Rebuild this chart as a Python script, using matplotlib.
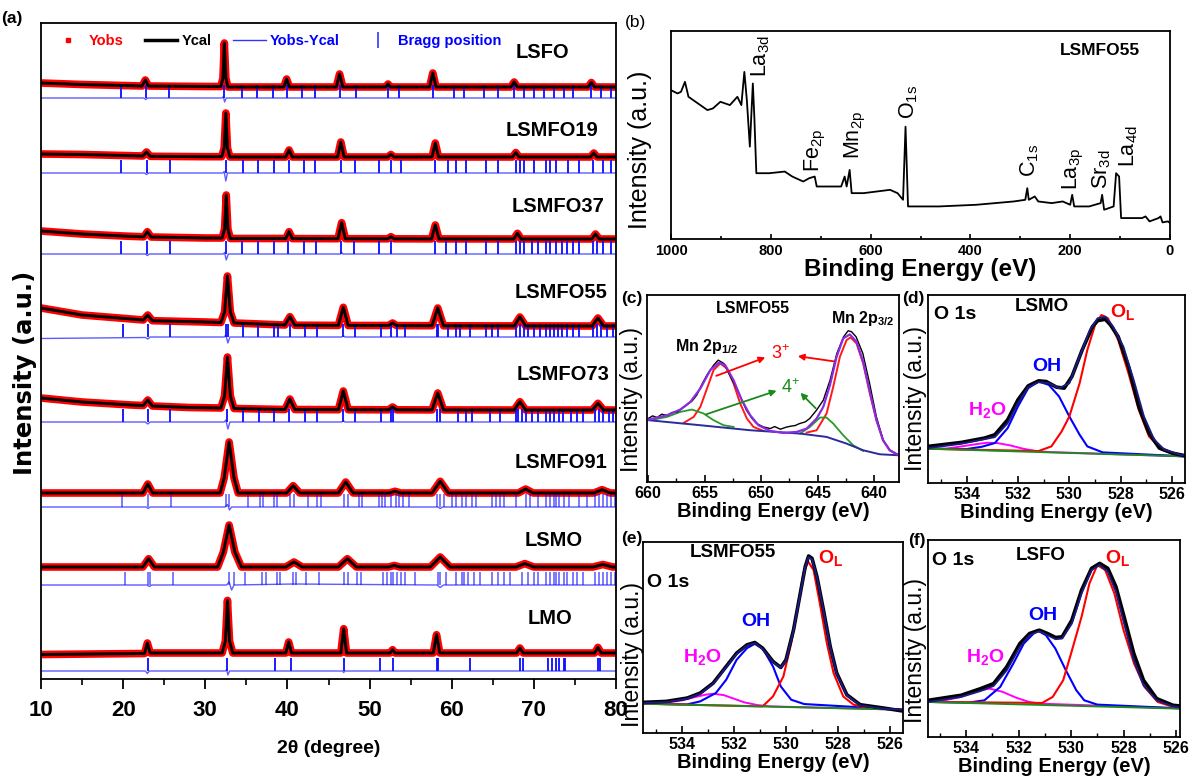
import matplotlib
matplotlib.use("Agg")
import matplotlib.pyplot as plt
from matplotlib.lines import Line2D
from matplotlib.ticker import MultipleLocator

ARIAL = ['Liberation Sans', 'DejaVu Sans']
WIDE = ['DejaVu Sans']
plt.rcParams['font.family'] = ARIAL
plt.rcParams['mathtext.default'] = 'regular'

# ---------------- (a) XRD Rietveld data (2theta, intensity a.u.) ----------------
samples = ['LSFO', 'LSMFO19', 'LSMFO37', 'LSMFO55', 'LSMFO73', 'LSMFO91', 'LSMO', 'LMO']
calc_offset = [592, 522, 440, 353, 269, 186, 112, 26]
diff_offset = [581, 506, 425, 342, 257, 172, 94, 8]

lsfo_tth = [10, 15, 20, 22.3, 22.7, 23.1, 30, 31.9, 32.15, 32.32, 32.5, 32.75, 39.55, 39.9, 40.25, 45.95, 46.35, 46.75,
            51.95, 52.25, 52.55, 57.3, 57.7, 58.1, 67.2, 67.6, 68.0, 76.6, 77.0, 77.4, 80]
lsfo_int = [4, 2.5, 1.5, 1, 7, 1, 0.5, 0.5, 9, 44, 9, 0, 0, 8, 0, 0, 13, 0, 0, 3, 0, 0, 14, 0, 0, 5, 0, 0, 4.5, 0, 0]
lsmfo19_tth = [10, 15, 20, 22.4, 22.85, 23.3, 30, 32.0, 32.3, 32.5, 32.7, 33.0, 39.8, 40.2, 40.6, 46.1, 46.5, 46.9,
               52.2, 52.6, 53.0, 57.6, 58.0, 58.4, 67.4, 67.8, 68.2, 76.9, 77.3, 77.7, 80]
lsmfo19_int = [3, 2.5, 1.5, 1, 5, 0.7, 0.3, 0.3, 9, 44, 9, 0, 0, 7, 0, 0, 15, 0, 0, 2.5, 0, 0, 14, 0, 0, 4.5, 0, 0, 4, 0, 0]
lsmfo37_tth = [10, 15, 20, 22.5, 22.95, 23.4, 30, 32.05, 32.35, 32.55, 32.75, 33.05, 39.8, 40.2, 40.6, 46.15, 46.6, 47.05,
               52.2, 52.6, 53.0, 57.55, 58.0, 58.45, 67.55, 68.0, 68.45, 77.05, 77.5, 77.95, 80]
lsmfo37_int = [8, 5, 3, 2.2, 7.3, 2, 1, 1, 10, 44, 10, 0.5, 0.5, 7.3, 0.4, 0.3, 16.3, 0.3, 0.2, 2.3, 0.2, 0.1, 14, 0.1,
               0, 5.7, 0, 0, 5, 0, 0]
lsmfo55_tth = [10, 15, 21, 22.45, 23.0, 23.55, 30, 31.9, 32.35, 32.7, 33.05, 33.5, 39.7, 40.3, 40.9, 46.2, 46.8, 47.4,
               52.3, 52.8, 53.3, 57.6, 58.3, 59.0, 67.6, 68.3, 69.0, 77.1, 77.8, 78.5, 80]
lsmfo55_int = [18, 11, 7, 6, 11, 5.3, 4, 3.5, 14, 50, 14, 3, 1, 9.3, 0.8, 0.6, 18.7, 0.5, 0.5, 3, 0.4, 0.3, 18, 0.2,
               0.1, 9, 0.1, 0, 8, 0, 0]
lsmfo73_tth = [10, 15, 21, 22.45, 23.0, 23.55, 28, 31.9, 32.35, 32.7, 33.05, 33.5, 39.7, 40.3, 40.9, 46.2, 46.8, 47.4,
               52.3, 52.8, 53.3, 57.6, 58.3, 59.0, 67.6, 68.3, 69.0, 77.1, 77.8, 78.5, 80]
lsmfo73_int = [12, 8, 5, 4.5, 10, 4, 2.5, 2, 14, 53, 14, 1.5, 0.5, 11, 0.5, 0.3, 19, 0.3, 0.2, 3, 0.2, 0.1, 17, 0.1,
               0, 8.3, 0, 0, 6.7, 0, 0]
lsmfo91_tth = [10, 22.4, 23.0, 23.6, 31.8, 32.3, 32.9, 33.5, 34.0, 39.9, 40.7, 41.5, 46.2, 47.1, 48.0, 52.4, 53.1, 53.8,
               57.6, 58.6, 59.6, 68.1, 69.0, 69.9, 77.3, 78.3, 79.3, 80]
lsmfo91_int = [0, 0, 9, 0, 0, 15, 51, 15, 0, 0, 7.3, 0, 0, 11, 0, 0, 1.7, 0, 0, 11.7, 0, 0, 4, 0, 0, 3.3, 0, 0]
lsmo_tth = [10, 22.4, 23.1, 23.8, 31.5, 32.2, 32.9, 33.6, 34.4, 39.8, 40.8, 41.8, 46.2, 47.3, 48.4, 52.3, 53.0, 53.7,
            57.4, 58.6, 59.8, 67.8, 68.9, 70.0, 77.2, 78.4, 79.6, 80]
lsmo_int = [0, 0, 8.3, 0, 0, 15, 42, 15, 0, 0, 5, 0, 0, 8.3, 0, 0, 1.5, 0, 0, 10, 0, 0, 3.4, 0, 0, 2.5, 0, 0]
lmo_tth = [10, 22.6, 22.95, 23.3, 32.05, 32.45, 32.7, 32.95, 33.35, 39.8, 40.15, 40.5, 46.5, 46.85, 47.2, 52.5, 52.8,
           53.1, 57.75, 58.15, 58.55, 67.9, 68.3, 68.7, 77.4, 77.8, 78.2, 80]
lmo_int = [-1.5, -0.5, 10, 0, 0, 12, 52.6, 12, 0, 0, 11, 0, 0, 24.3, 0, 0, 3.3, 0, 0, 18.3, 0, 0, 5, 0, 0, 5.6, 0, 0]

# difference curves Yobs - Ycal
lsfo_dtth = [10, 22.5, 22.75, 23.0, 32.05, 32.2, 32.35, 32.55, 46.2, 46.35, 46.5, 80]
lsfo_diff = [0, 0, -1.5, 0, 0, 1.5, -4, 0, 0, 1, 0, 0]
lsmfo19_dtth = [10, 22.6, 22.85, 23.1, 32.15, 32.3, 32.5, 32.7, 46.35, 46.5, 46.65, 80]
lsmfo19_diff = [0, 0, -1.5, 0, 0, 1.5, -8, 0, 0, 2, 0, 0]
lsmfo37_dtth = [10, 22.7, 22.95, 23.2, 32.2, 32.35, 32.55, 32.8, 46.45, 46.6, 46.75, 80]
lsmfo37_diff = [0, 0, -1.5, 0, 0, 1.5, -6, 0, 0, 1.5, 0, 0]
lsmfo55_dtth = [10, 22.7, 23.0, 23.3, 32.3, 32.5, 32.75, 33.0, 46.6, 46.8, 47.0, 80]
lsmfo55_diff = [-1.5, -0.5, -2, 0, 0, 2, -6, 0, 0, 1.5, 0, 0]
lsmfo73_dtth = [10, 22.7, 23.0, 23.3, 32.3, 32.5, 32.75, 33.0, 46.6, 46.8, 47.0, 80]
lsmfo73_diff = [0, 0, -2, 0, 0, 2, -7, 0, 0, 1.5, 0, 0]
lsmfo91_dtth = [10, 22.8, 23.05, 23.3, 32.4, 32.7, 32.95, 33.2, 58.3, 58.6, 58.9, 80]
lsmfo91_diff = [0, 0, -1.5, 0, 0, 2.5, -3, 0, 0, -1.5, 0, 0]
lsmo_dtth = [10, 22.9, 23.2, 23.5, 32.6, 32.9, 33.2, 33.5, 40.8, 58.2, 58.6, 59.0, 80]
lsmo_diff = [0, 0, -1.5, 0, 0, 3, -5, 0, 1, 0, -2.5, 0, 0]
lmo_dtth = [10, 22.7, 22.95, 23.2, 32.45, 32.6, 32.75, 32.95, 46.7, 46.85, 47.0, 80]
lmo_diff = [0, 0, -2.5, 0, 0, 1.5, -4, 0, 0, -1.5, 0, 0]

# Bragg positions
lsfo_bragg = [19.74, 22.79, 25.54, 32.3, 34.48, 36.31, 38.25, 39.89, 41.72, 43.32, 46.46, 48.29, 52.26, 53.56, 57.67,
              60.32, 61.53, 63.95, 65.64, 67.57, 68.78, 69.99, 71.19, 72.4, 73.61, 74.82, 76.99, 78.2, 79.4]
lsmfo19_bragg = [19.74, 22.88, 25.69, 32.55, 34.57, 36.41, 38.34, 40.18, 41.97, 43.41, 46.55, 48.25, 51.15, 52.6, 53.8,
                 57.91, 59.6, 60.57, 61.78, 64.19, 65.64, 67.81, 68.3, 68.78, 69.99, 71.44, 71.92, 72.65, 74.1, 75.55,
                 77.24, 78.45, 79.41]
lsmfo37_bragg = [19.74, 22.88, 25.69, 32.55, 34.48, 36.41, 38.34, 40.13, 41.97, 43.51, 46.55, 48.15, 51.14, 52.6, 57.91,
                 59.36, 60.56, 61.77, 64.19, 65.64, 67.81, 68.3, 68.78, 69.74, 70.47, 71.43, 71.92, 72.64, 73.37, 74.09,
                 74.82, 75.54, 77.23, 77.71, 78.44, 79.41]
lsmfo55_bragg = [19.98, 22.98, 25.69, 32.55, 32.79, 34.57, 36.41, 38.34, 38.83, 40.28, 42.11, 43.66, 46.8, 48.25, 51.39,
                 52.6, 53.32, 54.29, 58.15, 58.39, 59.6, 60.57, 61.05, 62.26, 64.19, 64.91, 65.64, 67.81, 68.3, 68.78,
                 69.26, 69.99, 70.71, 71.44, 71.92, 72.4, 72.88, 73.37, 74.09, 74.82, 75.54, 77.23, 77.71, 78.2, 78.92,
                 79.65]
lsmfo73_bragg = [19.98, 22.98, 25.69, 32.64, 34.57, 36.5, 38.34, 40.18, 42.11, 43.66, 46.8, 48.25, 51.39, 52.6, 52.84,
                 58.15, 58.53, 60.81, 61.77, 62.5, 64.67, 65.88, 67.81, 68.05, 68.54, 69.02, 69.74, 70.47, 71.44, 71.92,
                 72.4, 73.12, 73.6, 74.57, 75.29, 76.01, 77.46, 77.95, 78.43, 79.16, 79.64]
lsmfo91_bragg = [19.89, 23.03, 25.78, 32.55, 32.93, 35.2, 36.65, 36.99, 38.34, 38.68, 40.28, 40.76, 42.45, 43.66, 44.04,
                 46.94, 47.43, 48.73, 49.07, 51.14, 51.48, 51.87, 52.6, 53.17, 53.56, 54.04, 54.77, 58.15, 58.63, 59.11,
                 60.08, 60.56, 61.29, 61.77, 62.5, 62.98, 64.91, 65.4, 65.88, 66.36, 67.81, 69.02, 69.5, 70.47, 71.43,
                 71.92, 72.4, 72.64, 73.12, 73.61, 74.33, 75.54, 76.51, 77.47, 77.96, 78.44, 78.92, 79.41, 79.89]
lsmo_bragg = [20.23, 22.98, 23.27, 26.02, 32.88, 33.51, 34.86, 36.89, 37.38, 38.68, 39.07, 40.66, 41.0, 42.21, 43.8,
              46.94, 47.43, 48.49, 48.97, 51.63, 52.11, 52.6, 52.84, 53.32, 53.8, 54.29, 55.49, 58.39, 58.63, 59.35,
              60.56, 61.29, 61.53, 62.01, 62.74, 63.46, 64.91, 65.64, 66.36, 67.08, 68.54, 69.26, 69.99, 70.47, 71.43,
              71.92, 72.4, 72.64, 73.12, 73.61, 74.09, 74.82, 75.3, 76.02, 77.47, 77.96, 78.44, 78.92, 79.41, 79.89]
lmo_bragg = [22.98, 32.69, 38.44, 40.42, 46.84, 51.24, 52.84, 58.15, 58.39, 62.26, 68.3, 68.68, 71.68, 72.16, 72.64,
             73.12, 73.61, 73.85, 77.81, 78.05]

# ---------------- (b) XPS survey ----------------
survey_be = [1000, 987, 980, 972, 965, 946, 927, 916, 901, 882, 867, 859, 853, 848, 842, 836, 833, 829, 803, 772, 757,
             735, 723, 712, 708, 659, 652, 648, 642, 638, 614, 561, 546, 535, 530, 525, 463, 388, 313, 290, 286, 283,
             271, 264, 237, 215, 200, 196, 192, 162, 139, 136, 132, 113, 108, 102, 98, 56, 49, 41, 23, 19, 15, 4, 0]
survey_int = [45.0, 44.0, 44.5, 47.5, 43.0, 41.0, 39.0, 39.5, 41.5, 40.5, 43.0, 40.5, 50.5, 42.0, 28.0, 47.0, 37.0,
              20.0, 20.0, 20.5, 19.0, 17.5, 18.5, 19.0, 16.0, 16.0, 19.0, 16.0, 21.0, 14.0, 14.0, 15.0, 14.0, 12.0,
              34.0, 10.0, 10.0, 10.5, 11.5, 12.0, 15.5, 12.0, 13.0, 11.5, 11.0, 11.5, 10.5, 13.5, 10.0, 10.0, 11.0,
              13.5, 9.0, 10.0, 20.0, 19.0, 6.5, 6.5, 7.0, 5.5, 6.5, 7.0, 5.2, 5.5, 5.0]
survey_labels = ['La$_{3d}$', 'Fe$_{2p}$', 'Mn$_{2p}$', 'O$_{1s}$', 'C$_{1s}$', 'La$_{3p}$', 'Sr$_{3d}$', 'La$_{4d}$']
survey_label_be = [821, 711, 631, 524, 281, 194, 136, 83]
survey_label_int = [49, 20.5, 24.2, 36.2, 19, 14.8, 15.2, 22]

# ---------------- (c) Mn 2p ----------------
mn_raw_be = [660.0, 659.6, 659.2, 658.8, 658.3, 657.9, 657.4, 657.0, 656.6, 656.1, 655.7, 655.2, 654.8, 654.2, 653.8,
             653.3, 652.7, 652.1, 651.7, 651.3, 650.8, 650.4, 649.8, 649.2, 648.8, 648.3, 647.8, 647.4, 647.0, 646.6,
             646.1, 645.7, 645.1, 644.5, 643.9, 643.3, 642.7, 642.3, 642.0, 641.6, 641.0, 640.4, 639.8, 639.2, 638.6,
             638.0, 637.8]
mn_raw_int = [19.0, 19.8, 19.3, 20.3, 19.9, 20.8, 21.0, 22.0, 23.0, 24.3, 26.0, 29.5, 32.0, 35.0, 36.5, 35.5, 31.5,
              27.5, 24.5, 21.5, 19.0, 17.5, 16.5, 16.0, 16.6, 15.8, 16.4, 16.7, 16.9, 17.5, 18.0, 19.0, 21.5, 24.5,
              30.5, 38.5, 43.5, 45.3, 45.0, 43.5, 38.5, 29.5, 19.5, 12.5, 9.5, 8.3, 8.3]
mn_env_be = [659.94, 658.32, 657.15, 656.26, 655.38, 654.5, 653.76, 653.18, 652.44, 651.71, 650.97, 650.24, 649.21,
             648.03, 646.85, 645.97, 645.09, 644.5, 643.91, 643.32, 642.74, 642.15, 641.56, 640.97, 640.38, 639.79,
             639.21, 638.62, 637.82]
mn_env_int = [18.7, 20.0, 21.7, 24.0, 28.0, 33.5, 35.7, 35.0, 30.5, 24.5, 20.0, 17.0, 15.3, 14.7, 15.0, 16.0, 19.0,
              22.5, 29.0, 37.5, 43.0, 44.2, 42.0, 36.0, 27.0, 18.5, 12.5, 9.5, 8.0]
mn_bg_be = [659.94, 655.38, 650.97, 646.56, 644.21, 642.44, 640.97, 639.5, 637.82]
mn_bg_int = [18.5, 17.0, 15.5, 14.5, 13.5, 11.5, 9.5, 8.3, 8.0]
mn3a_be = [656.85, 655.97, 655.38, 654.79, 654.21, 653.62, 653.03, 652.44, 651.85, 651.26, 650.68, 649.79]
mn3a_int = [17.7, 19.5, 22.5, 28.0, 33.5, 35.5, 34.0, 29.5, 23.5, 19.0, 16.5, 15.3]
mn3b_be = [645.97, 645.09, 644.21, 643.62, 643.03, 642.44, 642.09, 641.56, 640.97, 640.38, 639.79, 639.21, 638.62,
           637.82]
mn3b_int = [14.8, 15.5, 20.5, 28.5, 37.5, 42.5, 43.3, 41.5, 35.5, 26.5, 18.5, 12.5, 9.5, 8.0]
mn4a_be = [659.5, 658.32, 657.15, 656.12, 655.09, 654.21, 653.32, 652.44]
mn4a_int = [18.7, 19.5, 21.0, 21.7, 20.5, 18.5, 17.0, 16.5]
mn4b_be = [646.56, 645.68, 644.79, 644.21, 643.62, 642.74, 641.85, 640.97]
mn4b_int = [14.5, 16.5, 19.3, 19.3, 17.5, 14.0, 11.0, 9.3]

# ---------------- (d) O 1s LSMO ----------------
d_raw_be = [535.5, 534.2, 533.3, 532.9, 532.4, 532.0, 531.6, 531.2, 530.9, 530.5, 530.2, 529.9, 529.5, 529.1, 528.9,
            528.6, 528.4, 528.1, 527.7, 527.3, 526.9, 526.5, 526.0, 525.5]
d_raw_int = [11.0, 12.2, 13.5, 14.5, 19.0, 25.0, 29.2, 30.7, 30.5, 28.8, 28.5, 32.0, 40.0, 47.0, 48.8, 49.2, 47.5,
             44.0, 35.0, 23.0, 15.0, 10.5, 9.0, 8.2]
d_env_be = [535.5, 534.2, 532.9, 532.4, 532.0, 531.6, 531.2, 530.8, 530.4, 530.0, 529.6, 529.2, 528.9, 528.6, 528.3,
            527.9, 527.5, 527.1, 526.7, 526.3, 525.7, 525.5]
d_env_int = [10.5, 11.8, 13.8, 18.0, 24.0, 28.8, 30.3, 30.0, 28.5, 30.0, 38.0, 46.0, 49.5, 50.0, 47.0, 41.0, 31.0,
             20.0, 13.0, 10.0, 8.5, 8.2]
d_ol_be = [535.5, 531.2, 530.7, 530.3, 530.0, 529.6, 529.3, 529.0, 528.75, 528.5, 528.1, 527.7, 527.3, 526.9, 526.4,
           525.9, 525.5]
d_ol_int = [10.3, 9.6, 11.0, 15.5, 20.0, 30.0, 40.0, 47.5, 50.5, 49.5, 43.0, 33.0, 22.0, 14.0, 10.0, 8.6, 8.0]
d_oh_be = [535.5, 534.0, 533.4, 532.9, 532.4, 532.0, 531.6, 531.2, 530.8, 530.4, 530.0, 529.6, 529.3, 528.7, 525.5]
d_oh_int = [10.3, 10.2, 10.9, 12.0, 16.5, 23.0, 28.5, 30.5, 29.5, 26.0, 20.0, 14.5, 11.0, 9.2, 8.0]
d_h2o_be = [535.5, 534.8, 534.2, 533.6, 533.2, 532.8, 532.3, 531.8, 531.3, 530.8, 525.5]
d_h2o_int = [10.3, 10.3, 11.0, 11.7, 12.1, 12.0, 11.3, 10.3, 9.6, 9.3, 8.0]
d_base_be = [535.5, 525.5]
d_base_int = [10.3, 8.0]

# ---------------- (e) O 1s LSMFO55 ----------------
e_raw_be = [535.5, 534.6, 533.8, 533.3, 532.8, 532.3, 531.9, 531.5, 531.2, 530.9, 530.5, 530.2, 530.0, 529.71, 529.45,
            529.26, 529.13, 529.0, 528.81, 528.56, 528.3, 528.05, 527.66, 527.15, 526.25, 525.5]
e_raw_int = [9.2, 9.5, 10.5, 12.0, 15.0, 20.0, 24.0, 26.5, 27.2, 25.5, 21.5, 19.7, 22.0, 31.0, 42.0, 50.0, 53.2, 52.5,
             47.0, 37.0, 26.0, 18.0, 11.5, 8.5, 7.5, 6.6]
e_env_int = [9.0, 9.3, 10.3, 11.8, 14.8, 19.8, 23.8, 26.3, 27.0, 25.3, 21.3, 19.6, 21.8, 30.8, 41.8, 49.8, 52.8, 52.2,
             46.8, 36.8, 25.8, 17.8, 11.3, 8.3, 7.3, 7.0]
e_ol_be = [535.5, 530.9, 530.5, 530.1, 529.8, 529.5, 529.33, 529.15, 528.94, 528.7, 528.43, 528.17, 527.8, 527.4,
           526.9, 525.5]
e_ol_int = [8.8, 8.0, 11.0, 17.0, 27.0, 40.0, 48.0, 51.5, 49.0, 39.0, 27.0, 18.0, 11.0, 8.5, 7.6, 7.0]
e_oh_be = [535.5, 533.8, 533.3, 532.7, 532.3, 531.9, 531.5, 531.2, 530.9, 530.5, 530.2, 529.8, 529.3, 525.5]
e_oh_int = [8.8, 8.6, 9.5, 12.0, 16.0, 22.0, 25.5, 26.8, 25.5, 20.0, 14.0, 10.0, 8.7, 7.0]
e_h2o_be = [535.5, 534.6, 534.0, 533.5, 533.1, 532.8, 532.4, 532.0, 531.6, 531.1, 530.6, 525.5]
e_h2o_int = [8.8, 9.1, 9.8, 10.8, 11.5, 11.8, 11.4, 10.3, 9.2, 8.4, 8.0, 7.0]
e_base_be = [535.5, 525.5]
e_base_int = [8.8, 7.0]

# ---------------- (f) O 1s LSFO ----------------
f_raw_be = [535.43, 534.19, 533.44, 532.95, 532.45, 531.95, 531.58, 531.21, 530.9, 530.59, 530.34, 529.97, 529.6,
            529.22, 528.91, 528.6, 528.29, 527.98, 527.61, 527.24, 526.74, 526.12, 525.75]
f_raw_int = [11.0, 12.5, 14.5, 16.0, 21.0, 28.0, 31.0, 32.0, 31.0, 29.8, 30.0, 35.0, 44.0, 50.5, 52.0, 50.5, 45.0,
             36.0, 25.0, 17.0, 11.5, 9.5, 9.2]
f_env_int = [10.5, 12.0, 13.8, 15.3, 20.0, 27.0, 30.5, 31.7, 30.5, 29.3, 29.5, 34.0, 43.0, 50.0, 51.5, 49.5, 43.5,
             34.0, 23.0, 15.5, 11.0, 9.2, 8.8]
f_ol_be = [535.4, 531.1, 530.7, 530.3, 530.0, 529.6, 529.3, 529.0, 528.7, 528.35, 528.0, 527.6, 527.2, 526.7, 526.1,
           525.6]
f_ol_int = [10.5, 10.2, 12.0, 17.0, 25.0, 36.0, 46.0, 51.5, 50.0, 43.0, 32.0, 22.0, 15.0, 10.5, 9.0, 8.5]
f_oh_be = [535.4, 533.9, 533.3, 532.7, 532.2, 531.8, 531.3, 530.96, 530.6, 530.2, 529.8, 529.5, 529.0, 525.6]
f_oh_int = [10.5, 10.3, 11.0, 15.0, 22.0, 28.0, 32.0, 30.5, 26.5, 20.0, 14.0, 11.0, 9.7, 8.5]
f_h2o_be = [535.4, 535.0, 534.2, 533.6, 533.1, 532.6, 532.1, 531.6, 531.2, 525.6]
f_h2o_int = [10.5, 10.7, 12.0, 13.8, 14.5, 13.5, 11.8, 10.5, 10.0, 8.5]
f_base_be = [535.45, 525.85]
f_base_int = [10.5, 8.5]


def panel_letter(fig, x, y, s, weight='bold'):
    fig.text(x / 1190, 1 - y / 780, s, fontsize=12.5, fontweight=weight, ha='center', va='center')


def frame(ax, lw=1.3):
    for sp in ax.spines.values():
        sp.set_linewidth(lw)


fig = plt.figure(figsize=(11.9, 7.8), dpi=100)
fig.patch.set_facecolor('white')

# ================= (a) =================
ax = fig.add_axes([41 / 1190, 101 / 780, 575 / 1190, 656 / 780])
tth_calc = [lsfo_tth, lsmfo19_tth, lsmfo37_tth, lsmfo55_tth, lsmfo73_tth, lsmfo91_tth, lsmo_tth, lmo_tth]
int_calc = [lsfo_int, lsmfo19_int, lsmfo37_int, lsmfo55_int, lsmfo73_int, lsmfo91_int, lsmo_int, lmo_int]
tth_diff = [lsfo_dtth, lsmfo19_dtth, lsmfo37_dtth, lsmfo55_dtth, lsmfo73_dtth, lsmfo91_dtth, lsmo_dtth, lmo_dtth]
int_diff = [lsfo_diff, lsmfo19_diff, lsmfo37_diff, lsmfo55_diff, lsmfo73_diff, lsmfo91_diff, lsmo_diff, lmo_diff]
bragg = [lsfo_bragg, lsmfo19_bragg, lsmfo37_bragg, lsmfo55_bragg, lsmfo73_bragg, lsmfo91_bragg, lsmo_bragg, lmo_bragg]
label_xy = [(71.1, 626), (72.2, 549), (72.9, 472), (73.3, 386), (73.5, 304), (73.3, 217), (72.4, 139), (72.0, 61)]

for i, name in enumerate(samples):
    yc = [calc_offset[i] + v for v in int_calc[i]]
    yd = [diff_offset[i] + v for v in int_diff[i]]
    ax.plot(tth_calc[i], yc, color='red', lw=5.5, solid_joinstyle='round', zorder=2)
    ax.plot(tth_calc[i], yc, color='black', lw=2.1, zorder=3)
    ax.plot(tth_diff[i], yd, color='#5c5cff', lw=1.0, zorder=2)
    alpha = 0.55 if name in ('LSMO', 'LSMFO91') else 0.95
    ax.vlines(bragg[i], diff_offset[i], diff_offset[i] + 13, color='#1010ff', lw=1.4, alpha=alpha, zorder=2)
    ax.text(label_xy[i][0], label_xy[i][1], name, fontsize=14.5, fontweight='bold',
            ha='center', va='center')

ax.set_xlim(10, 80)
ax.set_ylim(0, 656)
ax.set_yticks([])
ax.xaxis.set_major_locator(MultipleLocator(10))
ax.xaxis.set_minor_locator(MultipleLocator(5))
ax.tick_params(axis='x', which='major', direction='out', length=7, width=1.3, pad=8)
ax.tick_params(axis='x', which='minor', direction='out', length=4, width=1.2)
for lab in ax.get_xticklabels():
    lab.set_fontsize(16)
    lab.set_fontweight('bold')
ax.set_xlabel('2\u03b8 (degree)', fontsize=14, fontweight='bold', labelpad=14)
ax.set_ylabel('Intensity (a.u.)', family=WIDE, fontsize=17.5, fontweight='bold', va='center')
ax.yaxis.set_label_coords(-0.028, 0.466)
frame(ax)

handles = [Line2D([], [], color='red', marker='s', ms=3, ls='none'),
           Line2D([], [], color='black', lw=2.5),
           Line2D([], [], color='#3333ff', lw=1),
           Line2D([], [], color='#3333ff', marker='|', ms=11, mew=1.2, ls='none')]
leg = ax.legend(handles, ['Yobs', 'Ycal', 'Yobs-Ycal', 'Bragg position'], ncol=4, loc='upper left',
                bbox_to_anchor=(0.0, 1.0), frameon=False, handlelength=2.2, columnspacing=1.5,
                handletextpad=0.3, borderaxespad=0.35,
                prop={'weight': 'bold', 'size': 10.5},
                labelcolor=['red', 'black', 'blue', 'blue'])
panel_letter(fig, 12, 18, '(a)')

# ================= (b) =================
ax = fig.add_axes([671 / 1190, 541 / 780, 499 / 1190, 208 / 780])
ax.plot(survey_be, survey_int, color='black', lw=1.3)
for lab, xb, yb in zip(survey_labels, survey_label_be, survey_label_int):
    ax.text(xb, yb, lab, rotation=90, ha='center', va='bottom', fontsize=15.5)
ax.text(140, 57, 'LSMFO55', ha='center', va='center', fontsize=12.5, fontweight='bold')
ax.set_xlim(1000, 0)
ax.set_ylim(0.2, 62.8)
ax.set_yticks([])
ax.xaxis.set_major_locator(MultipleLocator(200))
ax.xaxis.set_minor_locator(MultipleLocator(100))
ax.tick_params(axis='x', which='both', direction='in', labelsize=10.5, width=1.2)
for lab in ax.get_xticklabels():
    lab.set_fontweight('bold')
ax.set_xlabel('Binding Energy (eV)', fontsize=17.5, fontweight='bold', labelpad=0)
ax.set_ylabel('Intensity (a.u.)', fontsize=18, va='center')
ax.yaxis.set_label_coords(-0.062, 0.43)
frame(ax)
panel_letter(fig, 636, 23, '(b)', weight='normal')


def xps_axes(rect, xlim, ylim, major, minor, ylab_xy):
    a = fig.add_axes(rect)
    a.set_xlim(*xlim)
    a.set_ylim(*ylim)
    a.set_yticks([])
    a.xaxis.set_major_locator(MultipleLocator(major))
    a.xaxis.set_minor_locator(MultipleLocator(minor))
    a.tick_params(axis='x', which='major', direction='in', length=5, width=1.2, labelsize=11.5, pad=3)
    a.tick_params(axis='x', which='minor', direction='in', length=3, width=1.0)
    for lab in a.get_xticklabels():
        lab.set_fontweight('bold')
    a.set_xlabel('Binding Energy (eV)', fontsize=14.5, fontweight='bold', labelpad=0.5)
    a.set_ylabel('Intensity (a.u.)', fontsize=16.5, va='center')
    a.yaxis.set_label_coords(*ylab_xy)
    frame(a)
    return a


# ================= (c) =================
ax = xps_axes([647 / 1190, 298 / 780, 252 / 1190, 187 / 780], (660.1, 637.8), (0, 56), 5, 2.5, (-0.06, 0.44))
ax.plot(mn3a_be, mn3a_int, color='#ff1a1a', lw=1.4)
ax.plot(mn3b_be, mn3b_int, color='#ff1a1a', lw=1.4)
ax.plot(mn4a_be, mn4a_int, color='#2a9a2a', lw=1.3)
ax.plot(mn4b_be, mn4b_int, color='#2a9a2a', lw=1.3)
ax.plot(mn_bg_be, mn_bg_int, color='#2b2b9c', lw=1.4)
ax.plot(mn_raw_be, mn_raw_int, color='black', lw=1.0)
ax.plot(mn_env_be, mn_env_int, color='#8a2be2', lw=1.6)
ax.text(650.7, 52, 'LSMFO55', ha='center', va='center', fontsize=11.5, fontweight='bold')
ax.text(654.8, 40.5, 'Mn 2p$_{1/2}$', ha='center', va='center', fontsize=11.5, fontweight='bold')
ax.text(641.0, 49, 'Mn 2p$_{3/2}$', ha='center', va='center', fontsize=11.5, fontweight='bold')
ax.text(648.3, 38.5, '3$^{+}$', color='red', ha='center', va='center', fontsize=13)
ax.text(647.4, 28.3, '4$^{+}$', color='#1a8a1a', ha='center', va='center', fontsize=13)
red_arrow = dict(arrowstyle='-|>', color='red', lw=1.3, mutation_scale=9)
green_arrow = dict(arrowstyle='-|>', color='#1a8a1a', lw=1.3, mutation_scale=9)
ax.annotate('', xy=(649.4, 37.6), xytext=(654.2, 31.5), arrowprops=red_arrow)
ax.annotate('', xy=(647.0, 37.8), xytext=(643.3, 36.0), arrowprops=red_arrow)
ax.annotate('', xy=(648.4, 27.6), xytext=(655.1, 20.0), arrowprops=green_arrow)
ax.annotate('', xy=(646.7, 27.3), xytext=(645.0, 21.5), arrowprops=green_arrow)
panel_letter(fig, 632, 298, '(c)')


def o1s(ax, raw_be, raw_int, env_be, env_int, ol, oh, h2o, base):
    ax.plot(h2o[0], h2o[1], color='#ff00ff', lw=1.4)
    ax.plot(oh[0], oh[1], color='#0000ff', lw=1.5)
    ax.plot(ol[0], ol[1], color='#ff0000', lw=1.5)
    ax.plot(base[0], base[1], color='#1f8a1f', lw=1.4)
    ax.plot(raw_be, raw_int, color='black', lw=2.6)
    ax.plot(env_be, env_int, color='#1a1a80', lw=1.4)


# ================= (d) =================
ax = xps_axes([928 / 1190, 297 / 780, 257 / 1190, 188 / 780], (535.5, 525.5), (0, 56.5), 2, 1, (-0.05, 0.45))
o1s(ax, d_raw_be, d_raw_int, d_env_be, d_env_int, (d_ol_be, d_ol_int), (d_oh_be, d_oh_int),
    (d_h2o_be, d_h2o_int), (d_base_be, d_base_int))
ax.text(534.46, 50.5, 'O 1s', ha='center', va='center', fontsize=14, fontweight='bold')
ax.text(531.06, 52.9, 'LSMO', ha='center', va='center', fontsize=13.5, fontweight='bold')
ax.text(530.86, 34.9, 'OH', color='blue', ha='center', va='center', fontsize=14, fontweight='bold')
ax.text(533.2, 22.0, 'H$_2$O', color='#ff00ff', ha='center', va='center', fontsize=14, fontweight='bold')
ax.text(527.93, 51.4, 'O$_L$', color='red', ha='center', va='center', fontsize=14, fontweight='bold')
panel_letter(fig, 913, 298, '(d)')

# ================= (e) =================
ax = xps_axes([643 / 1190, 47 / 780, 260 / 1190, 191 / 780], (535.5, 525.5), (0, 57.4), 2, 1, (-0.04, 0.41))
o1s(ax, e_raw_be, e_raw_int, e_raw_be, e_env_int, (e_ol_be, e_ol_int), (e_oh_be, e_oh_int),
    (e_h2o_be, e_h2o_int), (e_base_be, e_base_int))
ax.text(532.03, 54.1, 'LSMFO55', ha='center', va='center', fontsize=13.5, fontweight='bold')
ax.text(534.53, 45.1, 'O 1s', ha='center', va='center', fontsize=14, fontweight='bold')
ax.text(531.18, 33.4, 'OH', color='blue', ha='center', va='center', fontsize=14, fontweight='bold')
ax.text(533.22, 22.9, 'H$_2$O', color='#ff00ff', ha='center', va='center', fontsize=14, fontweight='bold')
ax.text(528.3, 52.6, 'O$_L$', color='red', ha='center', va='center', fontsize=14, fontweight='bold')
panel_letter(fig, 632, 539, '(e)')

# ================= (f) =================
ax = xps_axes([928 / 1190, 43 / 780, 252 / 1190, 197 / 780], (535.45, 525.85), (0, 59), 2, 1, (-0.05, 0.44))
o1s(ax, f_raw_be, f_raw_int, f_raw_be, f_env_int, (f_ol_be, f_ol_int), (f_oh_be, f_oh_int),
    (f_h2o_be, f_h2o_int), (f_base_be, f_base_int))
ax.text(534.51, 53.0, 'O 1s', ha='center', va='center', fontsize=14, fontweight='bold')
ax.text(531.16, 54.5, 'LSFO', ha='center', va='center', fontsize=13.5, fontweight='bold')
ax.text(531.09, 36.5, 'OH', color='blue', ha='center', va='center', fontsize=14, fontweight='bold')
ax.text(533.25, 23.9, 'H$_2$O', color='#ff00ff', ha='center', va='center', fontsize=14, fontweight='bold')
ax.text(528.23, 53.6, 'O$_L$', color='red', ha='center', va='center', fontsize=14, fontweight='bold')
panel_letter(fig, 917, 540, '(f)')

fig.savefig('out.png', dpi=100, facecolor='white')
